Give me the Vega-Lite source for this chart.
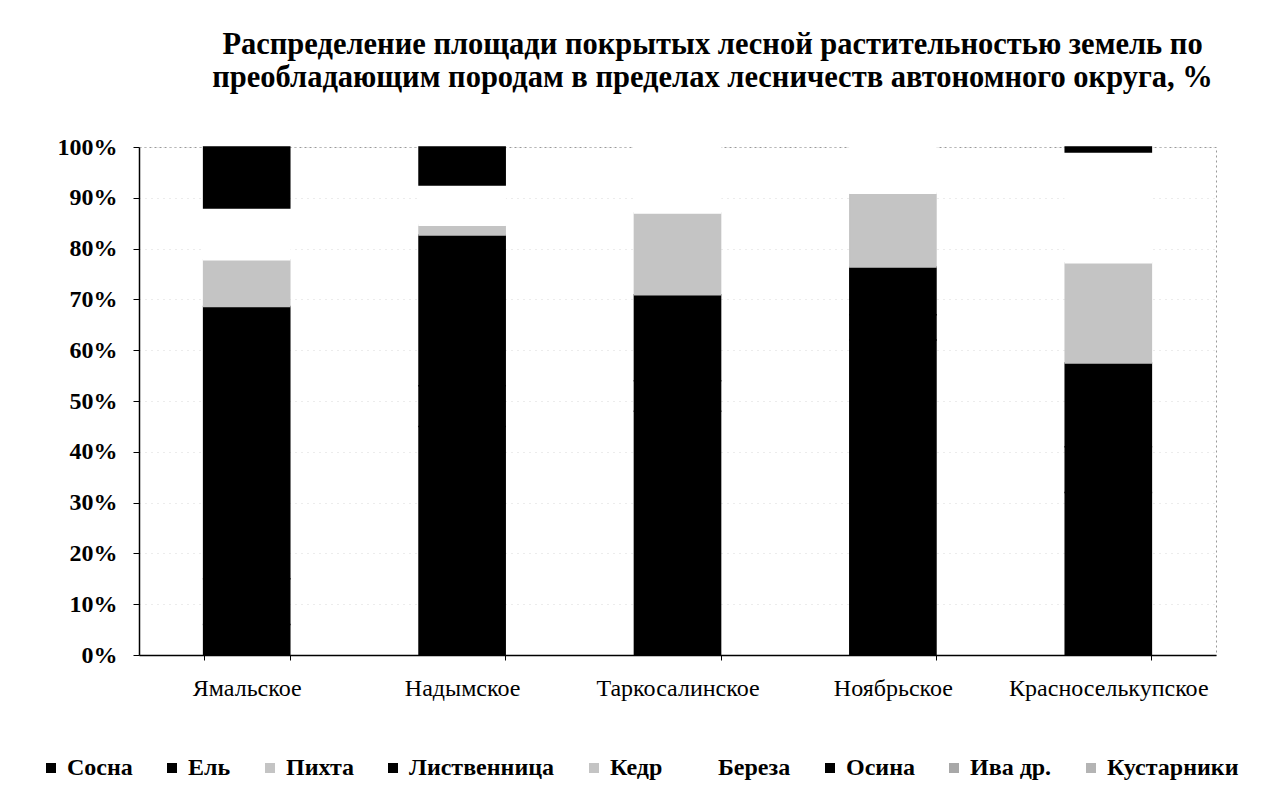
{
  "$schema": "https://vega.github.io/schema/vega-lite/v6.json",
  "width": 1077,
  "height": 508,
  "autosize": "none",
  "padding": {"left": 139, "top": 147, "right": 48, "bottom": 151},
  "background": "white",
  "title": {
    "text": ["Распределение площади покрытых лесной растительностью земель по", "преобладающим породам в пределах лесничеств автономного округа, %"],
    "font": "Liberation Serif",
    "fontSize": 30.5,
    "fontWeight": "bold",
    "color": "black",
    "anchor": "middle",
    "dx": 35,
    "offset": 42,
    "lineHeight": 33
  },
  "data": {
    "values": [
      {"district": "Ямальское", "species": "Сосна", "n": 1, "share": 6},
      {"district": "Ямальское", "species": "Ель", "n": 2, "share": 9},
      {"district": "Ямальское", "species": "Пихта", "n": 3, "share": 0},
      {"district": "Ямальское", "species": "Лиственница", "n": 4, "share": 53.6},
      {"district": "Ямальское", "species": "Кедр", "n": 5, "share": 9.2},
      {"district": "Ямальское", "species": "Береза", "n": 6, "share": 10.2},
      {"district": "Ямальское", "species": "Осина", "n": 7, "share": 12},
      {"district": "Ямальское", "species": "Ива др.", "n": 8, "share": 0},
      {"district": "Ямальское", "species": "Кустарники", "n": 9, "share": 0},
      {"district": "Надымское", "species": "Сосна", "n": 1, "share": 45},
      {"district": "Надымское", "species": "Ель", "n": 2, "share": 8},
      {"district": "Надымское", "species": "Пихта", "n": 3, "share": 0},
      {"district": "Надымское", "species": "Лиственница", "n": 4, "share": 29.7},
      {"district": "Надымское", "species": "Кедр", "n": 5, "share": 1.9},
      {"district": "Надымское", "species": "Береза", "n": 6, "share": 7.9},
      {"district": "Надымское", "species": "Осина", "n": 7, "share": 7.5},
      {"district": "Надымское", "species": "Ива др.", "n": 8, "share": 0},
      {"district": "Надымское", "species": "Кустарники", "n": 9, "share": 0},
      {"district": "Таркосалинское", "species": "Сосна", "n": 1, "share": 48},
      {"district": "Таркосалинское", "species": "Ель", "n": 2, "share": 6},
      {"district": "Таркосалинское", "species": "Пихта", "n": 3, "share": 0},
      {"district": "Таркосалинское", "species": "Лиственница", "n": 4, "share": 16.9},
      {"district": "Таркосалинское", "species": "Кедр", "n": 5, "share": 16.1},
      {"district": "Таркосалинское", "species": "Береза", "n": 6, "share": 13},
      {"district": "Таркосалинское", "species": "Осина", "n": 7, "share": 0},
      {"district": "Таркосалинское", "species": "Ива др.", "n": 8, "share": 0},
      {"district": "Таркосалинское", "species": "Кустарники", "n": 9, "share": 0},
      {"district": "Ноябрьское", "species": "Сосна", "n": 1, "share": 62},
      {"district": "Ноябрьское", "species": "Ель", "n": 2, "share": 5},
      {"district": "Ноябрьское", "species": "Пихта", "n": 3, "share": 0},
      {"district": "Ноябрьское", "species": "Лиственница", "n": 4, "share": 9.4},
      {"district": "Ноябрьское", "species": "Кедр", "n": 5, "share": 14.5},
      {"district": "Ноябрьское", "species": "Береза", "n": 6, "share": 9.1},
      {"district": "Ноябрьское", "species": "Осина", "n": 7, "share": 0},
      {"district": "Ноябрьское", "species": "Ива др.", "n": 8, "share": 0},
      {"district": "Ноябрьское", "species": "Кустарники", "n": 9, "share": 0},
      {"district": "Красноселькупское", "species": "Сосна", "n": 1, "share": 32},
      {"district": "Красноселькупское", "species": "Ель", "n": 2, "share": 9},
      {"district": "Красноселькупское", "species": "Пихта", "n": 3, "share": 0},
      {"district": "Красноселькупское", "species": "Лиственница", "n": 4, "share": 16.5},
      {"district": "Красноселькупское", "species": "Кедр", "n": 5, "share": 19.7},
      {"district": "Красноселькупское", "species": "Береза", "n": 6, "share": 21.8},
      {"district": "Красноселькупское", "species": "Осина", "n": 7, "share": 1},
      {"district": "Красноселькупское", "species": "Ива др.", "n": 8, "share": 0},
      {"district": "Красноселькупское", "species": "Кустарники", "n": 9, "share": 0}
    ]
  },
  "transform": [{"filter": "datum.share > 0"}],
  "mark": {"type": "bar", "strokeWidth": 1.5},
  "encoding": {
    "x": {
      "field": "district",
      "type": "nominal",
      "sort": ["Ямальское", "Надымское", "Таркосалинское", "Ноябрьское", "Красноселькупское"],
      "title": null,
      "scale": {"paddingInner": 0.6, "paddingOuter": 0.3},
      "axis": {
        "labelAngle": 0,
        "labelFont": "Liberation Serif",
        "labelFontSize": 24,
        "labelColor": "black",
        "labelPadding": 16,
        "labelLimit": 400,
        "domainColor": "black",
        "domainWidth": 1.5,
        "tickBand": "extent",
        "tickColor": "black",
        "tickSize": 5
      }
    },
    "y": {
      "field": "share",
      "type": "quantitative",
      "stack": "normalize",
      "title": null,
      "scale": {"domain": [0, 1]},
      "axis": {
        "format": ".0%",
        "values": [0, 0.1, 0.2, 0.3, 0.4, 0.5, 0.6, 0.7, 0.8, 0.9, 1],
        "labelFont": "Liberation Serif",
        "labelFontSize": 24,
        "labelFontWeight": "bold",
        "labelColor": "black",
        "labelPadding": 16,
        "domainColor": "black",
        "domainWidth": 1.5,
        "tickColor": "black",
        "tickSize": 6,
        "grid": true,
        "gridColor": "#d8d8d8",
        "gridDash": [1, 5]
      }
    },
    "color": {
      "field": "species",
      "type": "nominal",
      "sort": ["Сосна", "Ель", "Пихта", "Лиственница", "Кедр", "Береза", "Осина", "Ива др.", "Кустарники"],
      "scale": {
        "domain": ["Сосна", "Ель", "Пихта", "Лиственница", "Кедр", "Береза", "Осина", "Ива др.", "Кустарники"],
        "range": ["#000000", "#000000", "#c4c4c4", "#000000", "#c4c4c4", "#ffffff", "#000000", "#a8a8a8", "#b4b4b4"]
      },
      "legend": {
        "title": null,
        "orient": "none",
        "legendX": -100,
        "legendY": 609,
        "direction": "horizontal",
        "labelFont": "Liberation Serif",
        "labelFontSize": 24,
        "labelFontWeight": "bold",
        "labelColor": "black",
        "symbolType": "square",
        "symbolSize": 100,
        "symbolStrokeWidth": 0,
        "columnPadding": 27,
        "labelOffset": 4,
        "labelLimit": 300
      }
    },
    "stroke": {
      "field": "species",
      "type": "nominal",
      "scale": {
        "domain": ["Сосна", "Ель", "Пихта", "Лиственница", "Кедр", "Береза", "Осина", "Ива др.", "Кустарники"],
        "range": ["#000000", "#000000", "#c4c4c4", "#000000", "#c4c4c4", "#ffffff", "#000000", "#a8a8a8", "#b4b4b4"]
      },
      "legend": null
    },
    "order": {"field": "n", "type": "quantitative"}
  },
  "config": {
    "view": {"stroke": "#999999", "strokeDash": [2, 3]}
  }
}
